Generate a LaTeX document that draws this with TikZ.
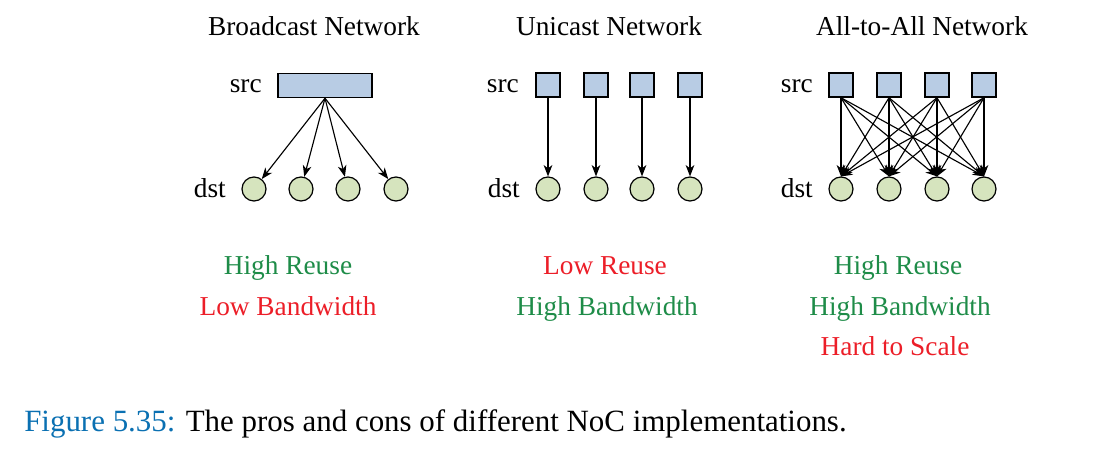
\documentclass[tikz,border=0pt]{standalone}
\usepackage{fontspec}
\setmainfont{Liberation Serif}
\usetikzlibrary{arrows.meta}
\definecolor{goodgreen}{RGB}{30,140,72}
\definecolor{badred}{RGB}{236,30,40}
\definecolor{capblue}{RGB}{10,112,178}
\definecolor{srcfill}{RGB}{184,204,228}
\definecolor{dstfill}{RGB}{214,228,190}
\tikzset{
  lbl/.style={font=\fontsize{20.5}{24}\selectfont, inner sep=0pt},
  ttl/.style={lbl, anchor=base},
  side/.style={lbl, anchor=base east},
  srcbox/.style={draw, line width=1.1pt, fill=srcfill, minimum width=18pt, minimum height=18pt, inner sep=0pt},
  dstnode/.style={draw, line width=0.9pt, fill=dstfill, circle, minimum size=18pt, inner sep=0pt},
  arr/.style={-{Stealth[length=8.5pt,width=6.5pt,inset=2.5pt]}, line width=0.85pt},
  good/.style={lbl, anchor=base, text=goodgreen},
  bad/.style={lbl, anchor=base, text=badred},
}
\begin{document}
\begin{tikzpicture}[x=0.75pt, y=-0.75pt]
\useasboundingbox (0,0) rectangle (1110,473);
% titles
\node[ttl] (t1) at (314,36) {Broadcast Network};
\node[ttl] (t2) at (609,36) {Unicast Network};
\node[ttl] (t3) at (922,36) {All-to-All Network};
% broadcast
\node[side] (bsl) at (262,93) {src};
\node[side] (bdl) at (226,198) {dst};
\node[srcbox, minimum width=70.5pt] (bsrc) at (325,85.5) {};
\foreach \j/\x in {1/254,2/301,3/348,4/396}{
  \node[dstnode] (bd\j) at (\x,189) {};
  \draw[arr] (bsrc.south) -- (bd\j);
}
% unicast
\node[side] (usl) at (519,93) {src};
\node[side] (udl) at (520,198) {dst};
\foreach \j/\x in {1/548,2/596,3/642,4/690}{
  \node[srcbox] (us\j) at (\x,85) {};
  \node[dstnode] (ud\j) at (\x,189) {};
  \draw[arr] (us\j) -- (ud\j);
}
% all-to-all
\node[side] (asl) at (813,93) {src};
\node[side] (adl) at (813,198) {dst};
\foreach \j/\x in {1/841,2/889,3/937,4/984}{
  \node[srcbox] (as\j) at (\x,85) {};
  \node[dstnode] (ad\j) at (\x,189) {};
}
\foreach \i in {1,...,4}{
  \foreach \j in {1,...,4}{
    \draw[arr] (as\i.south) -- (ad\j.north);
  }
}
% verdicts
\node[good] (b1) at (288,275) {High Reuse};
\node[bad] (b2) at (288,316) {Low Bandwidth};
\node[bad] (u1) at (605,275) {Low Reuse};
\node[good] (u2) at (607,316) {High Bandwidth};
\node[good] (a1) at (898,275) {High Reuse};
\node[good] (a2) at (900,316) {High Bandwidth};
\node[bad] (a3) at (895,356) {Hard to Scale};
% caption
\node[lbl, anchor=base west, font=\fontsize{23.2}{28}\selectfont] (cap) at (24,432) {\textcolor{capblue}{Figure 5.35:} The pros and cons of different NoC implementations.};
\end{tikzpicture}
\end{document}
